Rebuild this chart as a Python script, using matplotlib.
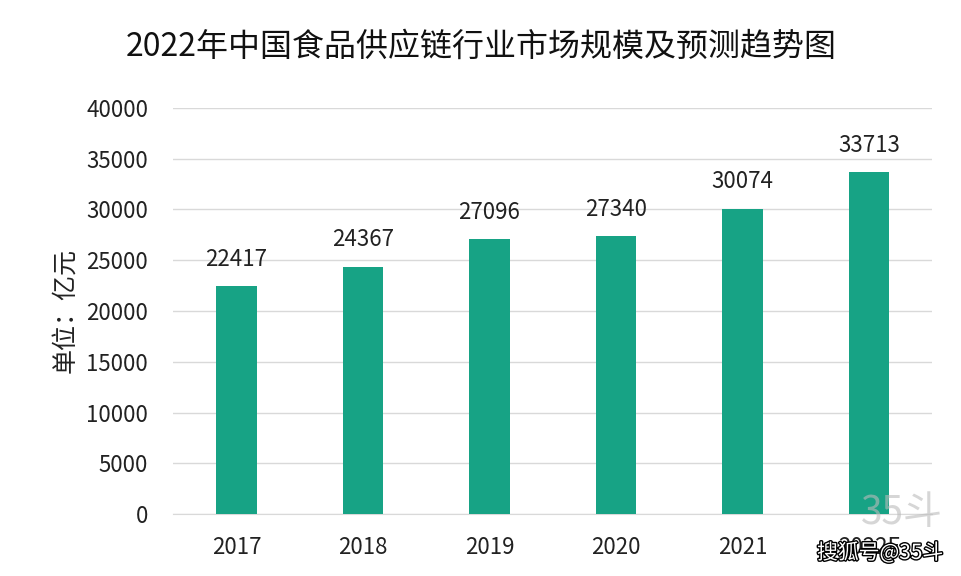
import matplotlib
matplotlib.use('Agg')
import matplotlib.pyplot as plt
import matplotlib.patheffects as pe

plt.rcParams['font.family'] = ['Noto Sans CJK SC', 'DejaVu Sans']

years = ['2017', '2018', '2019', '2020', '2021', '2022E']
values = [22417, 24367, 27096, 27340, 30074, 33713]

fig = plt.figure(figsize=(9.62, 5.76), dpi=100)
ax = fig.add_axes([0.18, 0.1076, 0.789, 0.705])

x = range(len(years))
ax.bar(x, values, width=0.32, color='#17a385', zorder=3)
for i, v in zip(x, values):
    ax.text(i, v + 1500, str(v), ha='center', va='bottom', fontsize=16, color='#222222')

ax.set_xlim(-0.5, len(years) - 0.5)
ax.set_ylim(0, 40000)
ax.set_yticks(range(0, 40001, 5000))
ax.set_xticks(list(x))
ax.set_xticklabels(years)
ax.grid(axis='y', color='#d9d9d9', linewidth=1, zorder=0)
for s in ['top', 'right', 'left']:
    ax.spines[s].set_visible(False)
ax.spines['bottom'].set_color('#d9d9d9')
ax.tick_params(axis='both', length=0, labelsize=16, colors='#222222')
ax.tick_params(axis='y', pad=18)
ax.tick_params(axis='x', pad=16)
ax.set_ylabel('单位：亿元', fontsize=18, color='#222222', labelpad=6)

fig.text(0.5, 0.918, '2022年中国食品供应链行业市场规模及预测趋势图', ha='center', va='center',
         fontsize=23, color='#111111')

# watermarks
fig.text(0.938, 0.11, '35斗', ha='center', va='center', fontsize=28, color='#bbbbbb', alpha=0.6)
fig.text(0.915, 0.04, '搜狐号@35斗', ha='center', va='center', fontsize=15, color='white',
         path_effects=[pe.withStroke(linewidth=2, foreground='black')])

fig.savefig('out.png', dpi=100)
